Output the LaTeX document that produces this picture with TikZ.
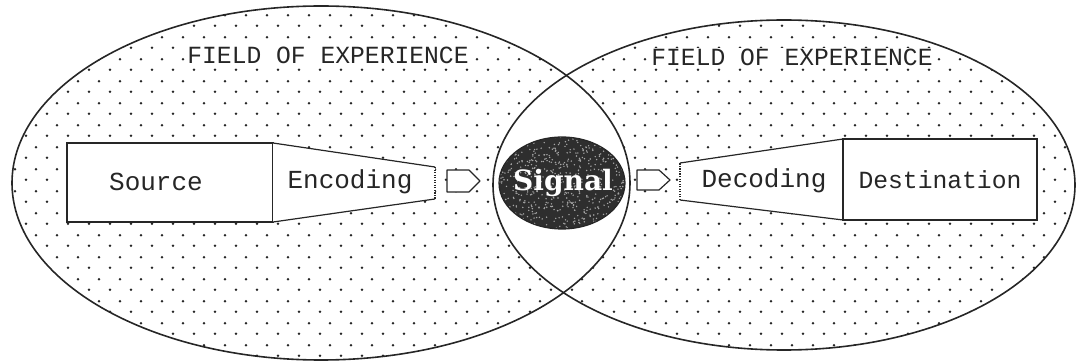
\documentclass[tikz,border=0pt]{standalone}
\usepackage{fontspec}
\usetikzlibrary{patterns}
\newfontfamily\typefont{Liberation Mono}
\newfontfamily\signalfont{DejaVu Serif}

% staggered dot screen used for the two fields
\pgfdeclarepatternformonly{fieldDots}{\pgfpointorigin}{\pgfqpoint{15.75pt}{16.5pt}}{\pgfqpoint{15.75pt}{16.5pt}}{%
  \pgfpathcircle{\pgfqpoint{3.9pt}{4.1pt}}{1.05pt}%
  \pgfpathcircle{\pgfqpoint{11.8pt}{12.35pt}}{1.05pt}%
  \pgfusepath{fill}%
}

\tikzset{
  field/.style={line width=1.2pt, draw=black!85},
  fieldfill/.style={pattern=fieldDots, pattern color=black!85},
  stage/.style={draw=black!85, line width=0.9pt, fill=white},
  label/.style={font=\typefont\fontsize{19.5pt}{20pt}\selectfont, text=black!85, inner sep=0pt},
  heading/.style={font=\typefont\fontsize{18.5pt}{19pt}\selectfont, text=black!85, fill=white, inner xsep=1pt, inner ysep=0.5pt},
  pointer/.style={draw=black!85, line width=0.9pt, fill=white, line join=round},
}

\begin{document}
\begin{tikzpicture}[x=0.75pt, y=0.75pt]
  \useasboundingbox (0,0) rectangle (1076,361);

  % two overlapping fields of experience
  \fill[fieldfill] (321,178) ellipse [x radius=309, y radius=177];
  \fill[fieldfill] (784,176) ellipse [x radius=291, y radius=165];
  % the shared region is left clear
  \begin{scope}
    \clip (321,178) ellipse [x radius=309, y radius=177];
    \fill[white] (784,176) ellipse [x radius=291, y radius=165];
  \end{scope}
  \draw[field] (321,178) ellipse [x radius=309, y radius=177];
  \draw[field] (784,176) ellipse [x radius=291, y radius=165];

  % headings
  \node[heading] (fieldL) at (328,306) {FIELD OF EXPERIENCE};
  \node[heading] (fieldR) at (792,304) {FIELD OF EXPERIENCE};

  % sender side
  \node[stage, minimum width=206*0.75pt, minimum height=79*0.75pt] (source) at (170,178.5) {};
  \node[label] (sourceText) at (156,179) {Source};
  \fill[white] (273,218) -- (435,194) -- (435,162) -- (273,139) -- cycle;
  \draw[black!85, line width=0.9pt] (435,162) -- (273,139) (273,218) -- (435,194);
  \draw[black!85, line width=0.9pt, densely dotted] (435,194) -- (435,162);
  \node[label] (encoding) at (350,179) {Encoding};

  % arrow into the signal
  \draw[pointer] (447,169) -- (469,169) -- (480,180) -- (469,191) -- (447,191) -- cycle;

  % signal: dark grainy oval
  \begin{scope}
    \clip (562,178) ellipse [x radius=63, y radius=46];
    \fill[black!82] (499,132) rectangle (625,224);
    \pgfmathsetseed{11}
    \foreach \i in {1,...,600}{
      \fill[black!35] ({562+63*rand},{178+46*rand}) circle [radius=0.6pt];
    }
  \end{scope}
  \draw[black!85, line width=0.9pt] (562,178) ellipse [x radius=63, y radius=46];
  \node[font=\signalfont\bfseries\fontsize{21pt}{22pt}\selectfont, text=white, inner sep=0pt] (signal) at (563,178) {Signal};

  % arrow out of the signal
  \draw[pointer] (637,171) -- (659,171) -- (670,181) -- (659,191) -- (637,191) -- cycle;

  % receiver side
  \fill[white] (680,198) -- (843,222) -- (843,141) -- (680,161) -- cycle;
  \draw[black!85, line width=0.9pt] (680,198) -- (843,222) (843,141) -- (680,161);
  \draw[black!85, line width=0.9pt, densely dotted] (680,161) -- (680,198);
  \node[label] (decoding) at (764,180) {Decoding};
  \node[stage, minimum width=194*0.75pt, minimum height=81*0.75pt] (destination) at (940,181.5) {};
  \node[label, font=\typefont\fontsize{18.5pt}{19pt}\selectfont] (destText) at (940,181) {Destination};
\end{tikzpicture}
\end{document}
